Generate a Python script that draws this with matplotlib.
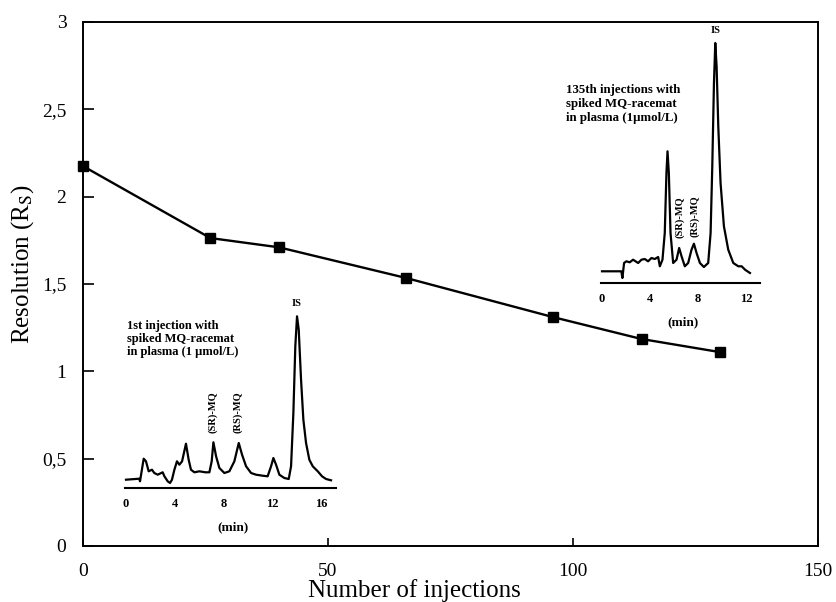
import matplotlib
matplotlib.use("Agg")
import matplotlib.pyplot as plt

plt.rcParams['font.family'] = ['Liberation Serif', 'DejaVu Serif']
plt.rcParams['mathtext.fontset'] = 'stix'

# main curve: resolution vs number of injections
injections = [0, 26, 40, 66, 96, 114, 130]
resolution = [2.175, 1.763, 1.71, 1.534, 1.31, 1.185, 1.11]

y_ticks = [0, 0.5, 1, 1.5, 2, 2.5, 3]
y_tick_labels = ["0", "0,5", "1", "1,5", "2", "2,5", "3"]
x_ticks = [0, 50, 100, 150]

# chromatogram, 1st injection (time in min, signal in arbitrary units)
t1 = [0.0, 1.09, 1.15, 1.45, 1.64, 1.86, 2.13, 2.32, 2.60, 3.01, 3.15, 3.42,
      3.61, 3.77, 3.97, 4.18, 4.38, 4.60, 4.92, 5.14, 5.33, 5.61, 6.02, 6.51,
      6.84, 7.03, 7.17, 7.39, 7.66, 8.07, 8.48, 8.89, 9.25, 9.52, 9.85, 10.26,
      10.67, 11.21, 11.62, 11.90, 12.09, 12.31, 12.58, 12.99, 13.35, 13.54,
      13.73, 13.89, 14.03, 14.17, 14.36, 14.55, 14.77, 15.04, 15.32, 15.73,
      16.08, 16.41, 16.82]
s1 = [8.3, 9.3, 6.7, 29.3, 26.7, 16.7, 18.3, 15.0, 13.3, 15.7, 11.7, 6.7,
      5.0, 8.3, 18.3, 26.7, 23.3, 26.7, 44.3, 28.3, 18.3, 15.7, 16.7, 15.7,
      15.7, 26.7, 45.7, 31.7, 20.0, 15.0, 16.7, 26.7, 45.0, 33.3, 21.7, 15.0,
      13.3, 12.3, 11.7, 21.7, 30.0, 23.3, 13.3, 10.0, 9.0, 21.7,
      75.0, 141.7, 171.7, 158.3, 108.3, 68.3, 45.0, 28.3, 21.7, 16.7,
      11.7, 9.0, 7.7]

# chromatogram, 135th injection
t2 = [0.0, 1.61, 1.70, 1.84, 2.03, 2.31, 2.59, 3.01, 3.29, 3.56, 3.84, 4.12,
      4.40, 4.68, 4.82, 5.04, 5.23, 5.37, 5.46, 5.57, 5.71, 5.93, 6.21, 6.43,
      6.63, 6.90, 7.18, 7.46, 7.66, 7.88, 8.16, 8.49, 8.85, 9.05, 9.19, 9.33,
      9.44, 9.55, 9.69, 9.88, 10.16, 10.52, 10.94, 11.36, 11.64, 11.92, 12.33]
s2 = [11.7, 11.7, 5.0, 20.0, 21.7, 20.7, 23.3, 20.0, 23.3, 24.0, 21.7, 25.0,
      24.0, 26.0, 16.7, 23.3, 50.0, 110.0, 131.7, 110.0, 50.0, 20.0, 23.3, 35.0,
      26.7, 16.7, 20.0, 33.3, 39.3, 30.0, 20.0, 16.0, 20.0, 50.0, 116.7, 200.0,
      240.0, 216.7, 156.7, 100.0, 56.7, 33.3, 20.0, 16.7, 16.7, 13.3, 10.0]

fig = plt.figure(figsize=(8.37, 6.02), dpi=100)
W, H = 837, 602

ax = fig.add_axes([83 / W, 1 - 546 / H, (818 - 83) / W, (546 - 22) / H])
ax.plot(injections, resolution, color='black', lw=1.7, marker='s',
        markersize=6.5, markerfacecolor='black', markeredgecolor='black',
        clip_on=False, zorder=5)
ax.set_xlim(0, 150)
ax.set_ylim(0, 3)
ax.set_yticks(y_ticks)
ax.set_yticklabels(y_tick_labels)
ax.set_xticks(x_ticks)
ax.tick_params(axis='y', direction='in', length=8, width=1.2, pad=12, labelsize=14)
ax.tick_params(axis='x', direction='in', length=6, width=1.2, pad=12, labelsize=14)
for sp in ax.spines.values():
    sp.set_linewidth(1.4)
fig.text(414 / W, 1 - 597 / H, "Number of injections", fontsize=18,
         ha='center', va='baseline')
fig.text(23 / W, 1 - 264 / H, "Resolution (R$_\\mathrm{S}$)", fontsize=18,
         rotation=90, ha='center', va='center')


def chromatogram(left_px, axis_px, px_per_min, tmax, smax, t, s, ticks):
    a = fig.add_axes([left_px / W, 1 - axis_px / H, tmax * px_per_min / W, smax / H])
    a.plot(t, s, color='black', lw=1.6, clip_on=False)
    a.set_xlim(0, tmax)
    a.set_ylim(0, smax)
    a.patch.set_alpha(0)
    for side in ['top', 'right', 'left']:
        a.spines[side].set_visible(False)
    a.spines['bottom'].set_linewidth(1.5)
    a.spines['bottom'].set_bounds(-0.1, ticks[-1] + 1.2)
    a.set_yticks([])
    a.set_xticks(ticks)
    a.set_xticklabels([str(v) for v in ticks], fontweight='bold')
    a.tick_params(axis='x', length=0, pad=7, labelsize=9)
    a.set_xlabel("(min)", fontsize=9.5, fontweight='bold', labelpad=8)
    return a


a1 = chromatogram(126, 488, 12.19, 17.5, 180, t1, s1, [0, 4, 8, 12, 16])
a1.text(0.1, 168, "1st injection with\nspiked MQ-racemat\nin plasma (1 \u00b5mol/L)",
        fontsize=9, fontweight='bold', va='top', ha='left', linespacing=1.1)
a1.text(7.1, 55, "(SR)-MQ", rotation=90, fontsize=7.5, fontweight='bold',
        ha='center', va='bottom')
a1.text(9.2, 55, "(RS)-MQ", rotation=90, fontsize=7.5, fontweight='bold',
        ha='center', va='bottom')
a1.text(14.0, 180, "IS", fontsize=7.5, fontweight='bold', ha='center', va='bottom')

a2 = chromatogram(602, 283, 12.0, 13.5, 260, t2, s2, [0, 4, 8, 12])
a2.text(-3.0, 199, "135th injections with\nspiked MQ-racemat\nin plasma (1\u00b5mol/L)",
        fontsize=9.3, fontweight='bold', va='top', ha='left', linespacing=1.2)
a2.text(6.5, 45, "(SR)-MQ", rotation=90, fontsize=7.5, fontweight='bold',
        ha='center', va='bottom')
a2.text(7.75, 46, "(RS)-MQ", rotation=90, fontsize=7.5, fontweight='bold',
        ha='center', va='bottom')
a2.text(9.5, 248, "IS", fontsize=7.5, fontweight='bold', ha='center', va='bottom')

fig.savefig("out.png", dpi=100)
